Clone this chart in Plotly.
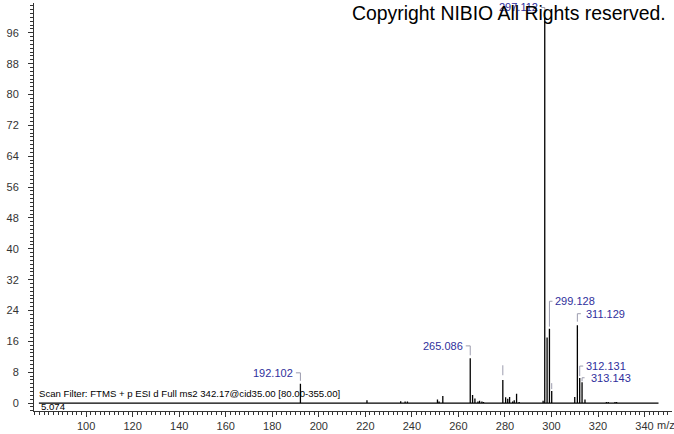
import plotly.graph_objects as go

# ---------------- data ----------------
peak_mz = [192.102, 220.7, 235.2, 237.1, 238.1, 251.0, 251.7, 253.3,
           265.086, 266.09, 267.1, 268.4, 269.1, 270.1, 270.8,
           279.09, 280.3, 281.2, 282.0, 283.3, 284.0, 285.0, 286.1,
           296.4, 297.112, 298.115, 299.128, 300.1,
           310.0, 311.129, 312.131, 313.143, 314.4,
           323.6, 324.4, 327.3, 328.0]
peak_int = [5.0, 0.7, 0.5, 0.4, 0.4, 0.9, 0.4, 1.8,
            11.6, 2.1, 1.2, 0.4, 0.6, 0.4, 0.3,
            6.0, 1.5, 1.1, 1.6, 0.4, 0.7, 2.4, 0.3,
            0.6, 100.0, 17.0, 19.3, 3.1,
            1.6, 20.2, 6.5, 5.4, 0.9,
            0.3, 0.3, 0.3, 0.3]
trace_start = 79.7
trace_end = 346.0

label_mz = [192.102, 265.086, 297.112, 299.128, 311.129, 312.131, 313.143]
label_text = ["192.102", "265.086", "297.112", "299.128", "311.129", "312.131", "313.143"]
marker_mz = [279.09, 300.1]   # labels suppressed, only the flag tick is shown

x_tick_vals = [100, 120, 140, 160, 180, 200, 220, 240, 260, 280, 300, 320, 340]
y_tick_vals = [0, 8, 16, 24, 32, 40, 48, 56, 64, 72, 80, 88, 96]

scan_filter = "Scan Filter: FTMS + p ESI d Full ms2 342.17@cid35.00 [80.00-355.00]"
rt_text = "5.074"
copyright_text = "Copyright NIBIO All Rights reserved."

# ---------------- layout constants ----------------
W, H = 674, 434
ML, MR, MT, MB = 34, 2, 3, 21
XR = [77.6, 351.8]
YR = [-2.06, 103.74]
ppx = (W - ML - MR) / (XR[1] - XR[0])
ppy = (H - MT - MB) / (YR[1] - YR[0])

# label styles: side, rise(px), gap(px), horizontal(px), text offset(px)
label_style = {
    "192.102": (-1, 11.0, 3.0, 4.5, 5.5),
    "265.086": (-1, 12.5, 3.0, 4.5, 5.0),
    "297.112": (-1, 10.0, 3.0, 3.5, 4.5),
    "299.128": (1, 27.5, 2.0, 3.0, 3.5),
    "311.129": (1, 11.5, 3.5, 3.5, 7.0),
    "312.131": (1, 12.0, 2.0, 3.5, 4.7),
    "313.143": (1, 4.5, 1.0, 2.5, 7.0),
}
marker_style = {279.09: (4.7, 10.0), 300.1: (2.0, 6.0)}

LABEL_BLUE = "#2f2f9c"
FLAG_GREY = "#9c9cae"
FONT = "Liberation Sans, Arial, sans-serif"

# ---------------- stick spectrum ----------------
xs = [trace_start]
ys = [0.0]
for m, h in sorted(zip(peak_mz, peak_int)):
    xs += [m, m, m]
    ys += [0.0, h, 0.0]
xs.append(trace_end)
ys.append(0.0)

fig = go.Figure()
fig.add_trace(go.Scatter(x=xs, y=ys, mode="lines",
                         line=dict(color="black", width=1.3),
                         hoverinfo="skip", showlegend=False))

height_of = dict(zip(peak_mz, peak_int))
shapes = []
annotations = []

for m, txt in zip(label_mz, label_text):
    side, rise, gap, hl, tdx = label_style[txt]
    h = height_of[m]
    yb = h + gap / ppy
    yt = h + rise / ppy
    shapes.append(dict(type="line", xref="x", yref="y", x0=m, x1=m, y0=yb, y1=yt,
                       line=dict(color=FLAG_GREY, width=1)))
    shapes.append(dict(type="line", xref="x", yref="y", x0=m, x1=m + side * hl / ppx,
                       y0=yt, y1=yt, line=dict(color=FLAG_GREY, width=1)))
    annotations.append(dict(x=m + side * tdx / ppx, y=yt, xref="x", yref="y",
                            text=txt, showarrow=False,
                            xanchor="left" if side > 0 else "right", yanchor="middle",
                            font=dict(family=FONT, size=11, color=LABEL_BLUE)))

for m in marker_mz:
    gap, ln = marker_style[m]
    h = height_of[m]
    shapes.append(dict(type="line", xref="x", yref="y", x0=m, x1=m,
                       y0=h + gap / ppy, y1=h + (gap + ln) / ppy,
                       line=dict(color=FLAG_GREY, width=1)))

annotations.append(dict(x=37, y=H - 395, xref="paper", yref="paper", text=scan_filter,
                        showarrow=False, xanchor="left", yanchor="middle",
                        font=dict(family=FONT, size=9.6, color="black")))
annotations.append(dict(x=39, y=H - 408, xref="paper", yref="paper", text=rt_text,
                        showarrow=False, xanchor="left", yanchor="middle",
                        font=dict(family=FONT, size=9.6, color="black")))
annotations.append(dict(x=340, y=0, xref="x", yref="paper", text="m/z",
                        showarrow=False, xanchor="left", yanchor="top",
                        xshift=10, yshift=-6,
                        font=dict(family=FONT, size=11, color="#333333")))
annotations.append(dict(x=1, y=1, xref="paper", yref="paper", text=copyright_text,
                        showarrow=False, xanchor="right", yanchor="top",
                        xshift=-4, yshift=3,
                        font=dict(family=FONT, size=19.4, color="black")))

# paper coords for the text lines -> convert pixel positions
for a in annotations:
    if a["xref"] == "paper" and a["x"] > 1:
        a["x"] = (a["x"] - ML) / (W - ML - MR)
    if a["yref"] == "paper" and a["y"] > 1:
        a["y"] = (a["y"] - MB) / (H - MT - MB)

fig.update_layout(
    width=W, height=H,
    margin=dict(l=ML, r=MR, t=MT, b=MB, pad=0),
    paper_bgcolor="white", plot_bgcolor="white",
    font=dict(family=FONT, size=11, color="#333333"),
    xaxis=dict(range=XR, showgrid=False, zeroline=False,
               showline=True, linecolor="#333333", linewidth=1,
               tickmode="array", tickvals=x_tick_vals,
               ticks="outside", ticklen=5, tickcolor="#333333",
               minor=dict(dtick=2, ticklen=3, ticks="outside", tickcolor="#333333"),
               tickfont=dict(family=FONT, size=11, color="#333333")),
    yaxis=dict(range=YR, showgrid=False, zeroline=False,
               showline=True, linecolor="#333333", linewidth=1,
               tickmode="array", tickvals=y_tick_vals,
               ticks="outside", ticklen=5, tickcolor="#333333",
               minor=dict(dtick=1, ticklen=3, ticks="outside", tickcolor="#333333"),
               ticklabelstandoff=7,
               tickfont=dict(family=FONT, size=11, color="#333333")),
    shapes=shapes,
    annotations=annotations,
)

fig.write_html("out.html", config={"displayModeBar": False},
               post_script="document.body.style.margin='0';document.body.style.overflow='hidden';")
